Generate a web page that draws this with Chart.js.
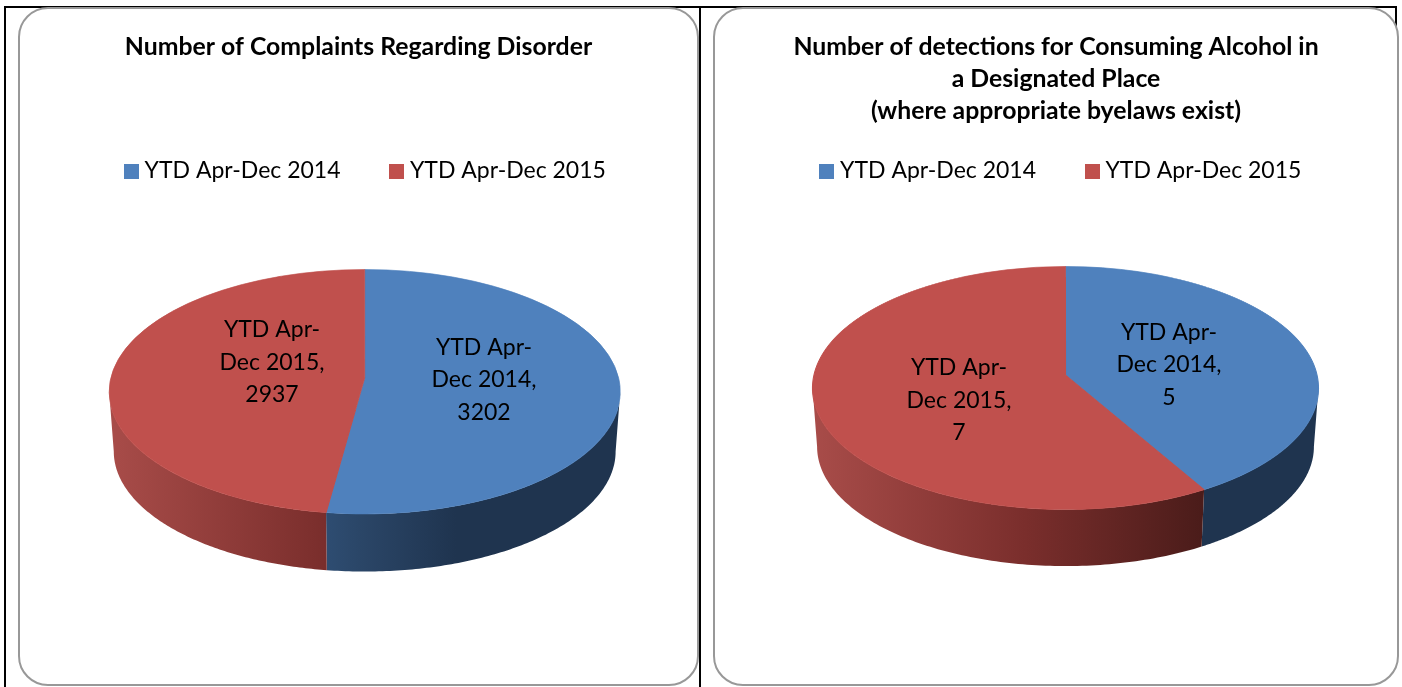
<!DOCTYPE html>
<html>
<head>
<meta charset="utf-8">
<script src="https://cdn.jsdelivr.net/npm/chart.js@4"></script>
<style>
  html, body { margin: 0; padding: 0; background: #fff; overflow: hidden; }
  .line { position: absolute; background: #000; }
  .panel { position: absolute; box-sizing: border-box; background: #fff; border: 2px solid #989898; border-radius: 30px; }
  canvas { position: absolute; }
</style>
</head>
<body>
<div class="line" style="left:4px;top:6px;width:1392px;height:2px"></div>
<div class="line" style="left:4px;top:6px;width:2px;height:681px"></div>
<div class="line" style="left:699px;top:6px;width:2px;height:681px"></div>
<div class="line" style="left:1395px;top:6px;width:2px;height:30px"></div>
<div class="panel" style="left:18px;top:7px;width:681px;height:679px"></div>
<div class="panel" style="left:713px;top:7px;width:686px;height:679px"></div>
<canvas id="complaints" width="677" height="675" style="left:20px;top:9px"></canvas>
<canvas id="detections" width="682" height="675" style="left:715px;top:9px"></canvas>

<script>
var categories = ['YTD Apr-Dec 2014', 'YTD Apr-Dec 2015'];
var complaintValues = [3202, 2937];
var detectionValues = [5, 7];
var sliceColors = ['#4F81BD', '#C0504D'];

var complaintTitle = 'Number of Complaints Regarding Disorder';
var detectionTitle = ['Number of detections for Consuming Alcohol in', 'a Designated Place', '(where appropriate byelaws exist)'];

var fontName = 'Lato';
var titleSize = 24.8;
var labelSize = 23;
var legendGap = 54;

// shades of the pie's side, left to right across the pie
var wallStops = [
    [[0, '#3a5f8c'], [0.42, '#2e4d72'], [0.5, '#2a4566'], [0.68, '#1f344f'], [1, '#1f344f']],
    [[0, '#a84c49'], [0.42, '#7a2e2c'], [0.77, '#4b1c1a'], [1, '#4b1c1a']]
];

// little square for the legend, the built in one sits too far from its text
function legendKey(color) {
    var c = document.createElement('canvas');
    c.width = 15;
    c.height = 15;
    var g = c.getContext('2d');
    g.fillStyle = color;
    g.fillRect(0, 0, 15, 15);
    return c;
}

// the pie seen in perspective: top/apex/bottom are page y of the top face
function perspective(o) {
    var c = ((o.bottom + o.top) - 2 * o.apex) / (o.top - o.bottom);
    var a = o.bottom * (1 + c) - o.apex;
    return {
        x: o.x, apex: o.apex, halfWidth: o.halfWidth, a: a, c: c,
        point: function (theta) {
            var u = Math.cos(theta), v = Math.sin(theta), w = c * v + 1;
            return [o.x + o.halfWidth * u / w, (a * v + o.apex) / w];
        }
    };
}

var pie3d = {
    id: 'pie3d',
    beforeDatasetDraw: function (chart, args, opts) {
        var ctx = chart.ctx;
        var p = perspective(opts);
        var arcs = args.meta.data;
        var ox = chart.canvas.offsetLeft, oy = chart.canvas.offsetTop;
        // where the rim is widest, the side is only visible between these
        var edge = Math.asin(-p.c);

        // side of the pie first
        arcs.forEach(function (arc, i) {
            var from = Math.max(arc.startAngle, edge);
            var to = Math.min(arc.endAngle, Math.PI - edge);
            if (to <= from) return;
            var steps = 120, rim = [], t;
            for (t = 0; t <= steps; t++) {
                rim.push(p.point(from + (to - from) * t / steps));
            }
            var grad = ctx.createLinearGradient(p.x - p.halfWidth - ox, 0, p.x + p.halfWidth - ox, 0);
            wallStops[i].forEach(function (s) { grad.addColorStop(s[0], s[1]); });
            ctx.beginPath();
            rim.forEach(function (q, n) {
                if (n == 0) ctx.moveTo(q[0] - ox, q[1] - oy);
                else ctx.lineTo(q[0] - ox, q[1] - oy);
            });
            for (t = steps; t >= 0; t--) {
                var bx = p.x + (rim[t][0] - p.x) * opts.shrink;
                var by = p.apex + (rim[t][1] - p.apex) * opts.shrink + opts.depth;
                ctx.lineTo(bx - ox, by - oy);
            }
            ctx.closePath();
            ctx.fillStyle = grad;
            ctx.fill();
        });

        // top face: library arcs drawn row by row through the perspective
        var ax = arcs[0].x, ay = arcs[0].y, r = arcs[0].outerRadius;
        for (var row = Math.floor(opts.top); row < opts.bottom + 1; row++) {
            var ym = row + 0.5;
            var den = p.a - p.c * ym;
            var v = (ym - p.apex) / den;
            if (v < -1.02 || v > 1.02) continue;
            var dvdy = (p.a - p.c * p.apex) / (den * den);
            var sx = (p.halfWidth / r) / (p.c * v + 1);
            var sy = 1 / (r * dvdy);
            ctx.save();
            ctx.beginPath();
            ctx.rect(0, row - oy, chart.width, 1);
            ctx.clip();
            ctx.setTransform(sx, 0, 0, sy, p.x - ox - ax * sx, ym - oy - (ay + v * r) * sy);
            arcs.forEach(function (arc) { arc.draw(ctx); });
            ctx.restore();
        }
        return false;
    },
    afterDraw: function (chart, args, opts) {
        var ctx = chart.ctx;
        var ox = chart.canvas.offsetLeft, oy = chart.canvas.offsetTop;
        var values = chart.data.datasets[0].data;
        ctx.save();
        ctx.fillStyle = '#000';
        ctx.textAlign = 'center';
        ctx.textBaseline = 'middle';
        ctx.font = labelSize + 'px ' + fontName;
        chart.data.labels.forEach(function (label, i) {
            var parts = label.split('-');
            var lines = [parts[0] + '-', parts[1] + ',', String(values[i])];
            lines.forEach(function (text, n) {
                ctx.fillText(text, opts.labelAt[i][0] - ox, opts.labelAt[i][1] - oy + (n - 1) * 32.5);
            });
        });
        ctx.restore();
    }
};

// moves the legend to where it sits in the picture
var legendPlace = {
    id: 'legendPlace',
    afterLayout: function (chart, args, opts) {
        var lg = chart.legend;
        var h = lg.bottom - lg.top;
        lg.left += opts.dx;
        lg.right += opts.dx;
        lg.top = opts.y - chart.canvas.offsetTop - legendGap - labelSize / 2;
        lg.bottom = lg.top + h;
    }
};

function makePie(id, title, values, pie, legendDx) {
    return new Chart(document.getElementById(id).getContext('2d'), {
        type: 'pie',
        data: {
            labels: categories,
            datasets: [{ data: values, backgroundColor: sliceColors, borderColor: sliceColors, borderWidth: 1 }]
        },
        options: {
            responsive: false,
            animation: false,
            plugins: {
                title: {
                    display: true,
                    text: title,
                    color: '#000',
                    font: { family: fontName, size: titleSize, weight: 'bold', lineHeight: 32 / titleSize },
                    padding: { top: 22, bottom: 10 }
                },
                legend: {
                    position: 'top',
                    labels: {
                        color: '#000',
                        font: { family: fontName, size: labelSize },
                        usePointStyle: true,
                        pointStyleWidth: 4,
                        boxHeight: 15,
                        padding: legendGap,
                        generateLabels: function (chart) {
                            return categories.map(function (name, i) {
                                return { text: name, pointStyle: legendKey(sliceColors[i]), fontColor: '#000', lineWidth: 0, index: i };
                            });
                        }
                    }
                },
                tooltip: { enabled: false },
                pie3d: pie,
                legendPlace: { dx: legendDx, y: 171 }
            }
        },
        plugins: [pie3d, legendPlace]
    });
}

makePie('complaints', complaintTitle, complaintValues, {
    x: 364.7, apex: 378, top: 269.5, bottom: 514, halfWidth: 253.9,
    shrink: 0.982, depth: 60,
    labelAt: [[484, 380], [272, 362.5]]
}, 9);

makePie('detections', detectionTitle, detectionValues, {
    x: 1065.5, apex: 375, top: 266.5, bottom: 509.5, halfWidth: 251.5,
    shrink: 0.982, depth: 59,
    labelAt: [[1169, 365], [959, 400.5]]
}, 7);
</script>
</body>
</html>
